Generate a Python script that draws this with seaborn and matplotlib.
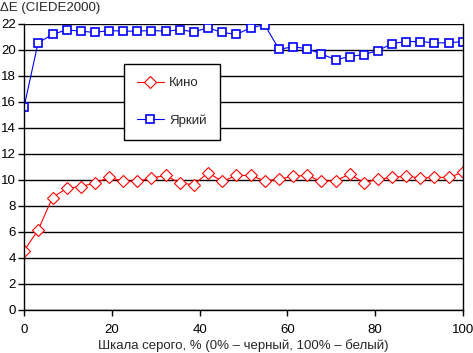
import matplotlib
matplotlib.use("Agg")
import matplotlib.pyplot as plt
import seaborn as sns

# gray level, % (32 steps from black to white)
gray_pct = [0, 3.2, 6.5, 9.7, 12.9, 16.1, 19.4, 22.6, 25.8, 29.0, 32.3, 35.5,
            38.7, 41.9, 45.2, 48.4, 51.6, 54.8, 58.1, 61.3, 64.5, 67.7, 71.0,
            74.2, 77.4, 80.6, 83.9, 87.1, 90.3, 93.5, 96.8, 100]

# delta E for the "Кино" preset
kino = [4.55, 6.15, 8.65, 9.35, 9.5, 9.75, 10.2, 9.9, 9.9, 10.15, 10.35, 9.75,
        9.65, 10.55, 9.9, 10.35, 10.35, 9.95, 10.05, 10.3, 10.35, 9.9, 9.95,
        10.45, 9.8, 10.05, 10.2, 10.3, 10.15, 10.2, 10.2, 10.6]

# delta E for the "Яркий" preset
yarkiy = [15.6, 20.55, 21.2, 21.55, 21.45, 21.35, 21.5, 21.45, 21.45, 21.5,
          21.45, 21.55, 21.4, 21.7, 21.35, 21.2, 21.7, 21.95, 20.05, 20.25,
          20.1, 19.7, 19.25, 19.5, 19.65, 19.95, 20.5, 20.65, 20.65, 20.55,
          20.55, 20.65]

x_ticks = [0, 20, 40, 60, 80, 100]
y_ticks = list(range(0, 23, 2))

sns.set_style("white")
plt.rcParams["font.family"] = ["Liberation Sans", "DejaVu Sans"]
fs = 9.5

fig = plt.figure(figsize=(4.73, 3.53), dpi=100)
ax = fig.add_axes([24 / 473, 1 - 310 / 353, 439 / 473, 286 / 353])

sns.lineplot(x=gray_pct, y=kino, ax=ax, color="#ff0000", linewidth=0.8,
             marker="D", markersize=6.5, markerfacecolor="white",
             markeredgecolor="#ff0000", markeredgewidth=0.8, label="Кино")
sns.lineplot(x=gray_pct, y=yarkiy, ax=ax, color="#0000ff", linewidth=0.8,
             marker="s", markersize=5.5, markerfacecolor="white",
             markeredgecolor="#0000ff", markeredgewidth=1.2, label="Яркий")

ax.set_xlim(0, 100)
ax.set_ylim(0, 22)
ax.set_xticks(x_ticks)
ax.set_yticks(y_ticks)
ax.yaxis.grid(True, color="black", linewidth=1, linestyle="-")
ax.xaxis.grid(False)
ax.set_axisbelow(True)
for side in ["left", "bottom", "right"]:
    ax.spines[side].set_color("black")
    ax.spines[side].set_linewidth(1)
ax.spines["top"].set_visible(False)
ax.tick_params(axis="both", direction="out", length=4, width=1, color="black",
               labelsize=fs, labelcolor="black")
ax.tick_params(axis="y", left=True, pad=2)
ax.tick_params(axis="x", bottom=True, pad=6)
ax.set_xlabel("Шкала серого, % (0% – черный, 100% – белый)", fontsize=fs, labelpad=2)
ax.set_ylabel("")

fig.text(0.0, 1 - 8 / 353, "ΔE (CIEDE2000)", ha="left", va="center", fontsize=fs)

leg = ax.legend(loc="upper left", bbox_to_anchor=(0.228, 0.860),
                borderaxespad=0, frameon=True, fancybox=False, shadow=False,
                framealpha=1, edgecolor="black", fontsize=fs,
                borderpad=1.0, labelspacing=1.9, handlelength=2.0,
                handletextpad=0.4)
leg.get_frame().set_linewidth(1)

fig.savefig("out.png", dpi=100)
